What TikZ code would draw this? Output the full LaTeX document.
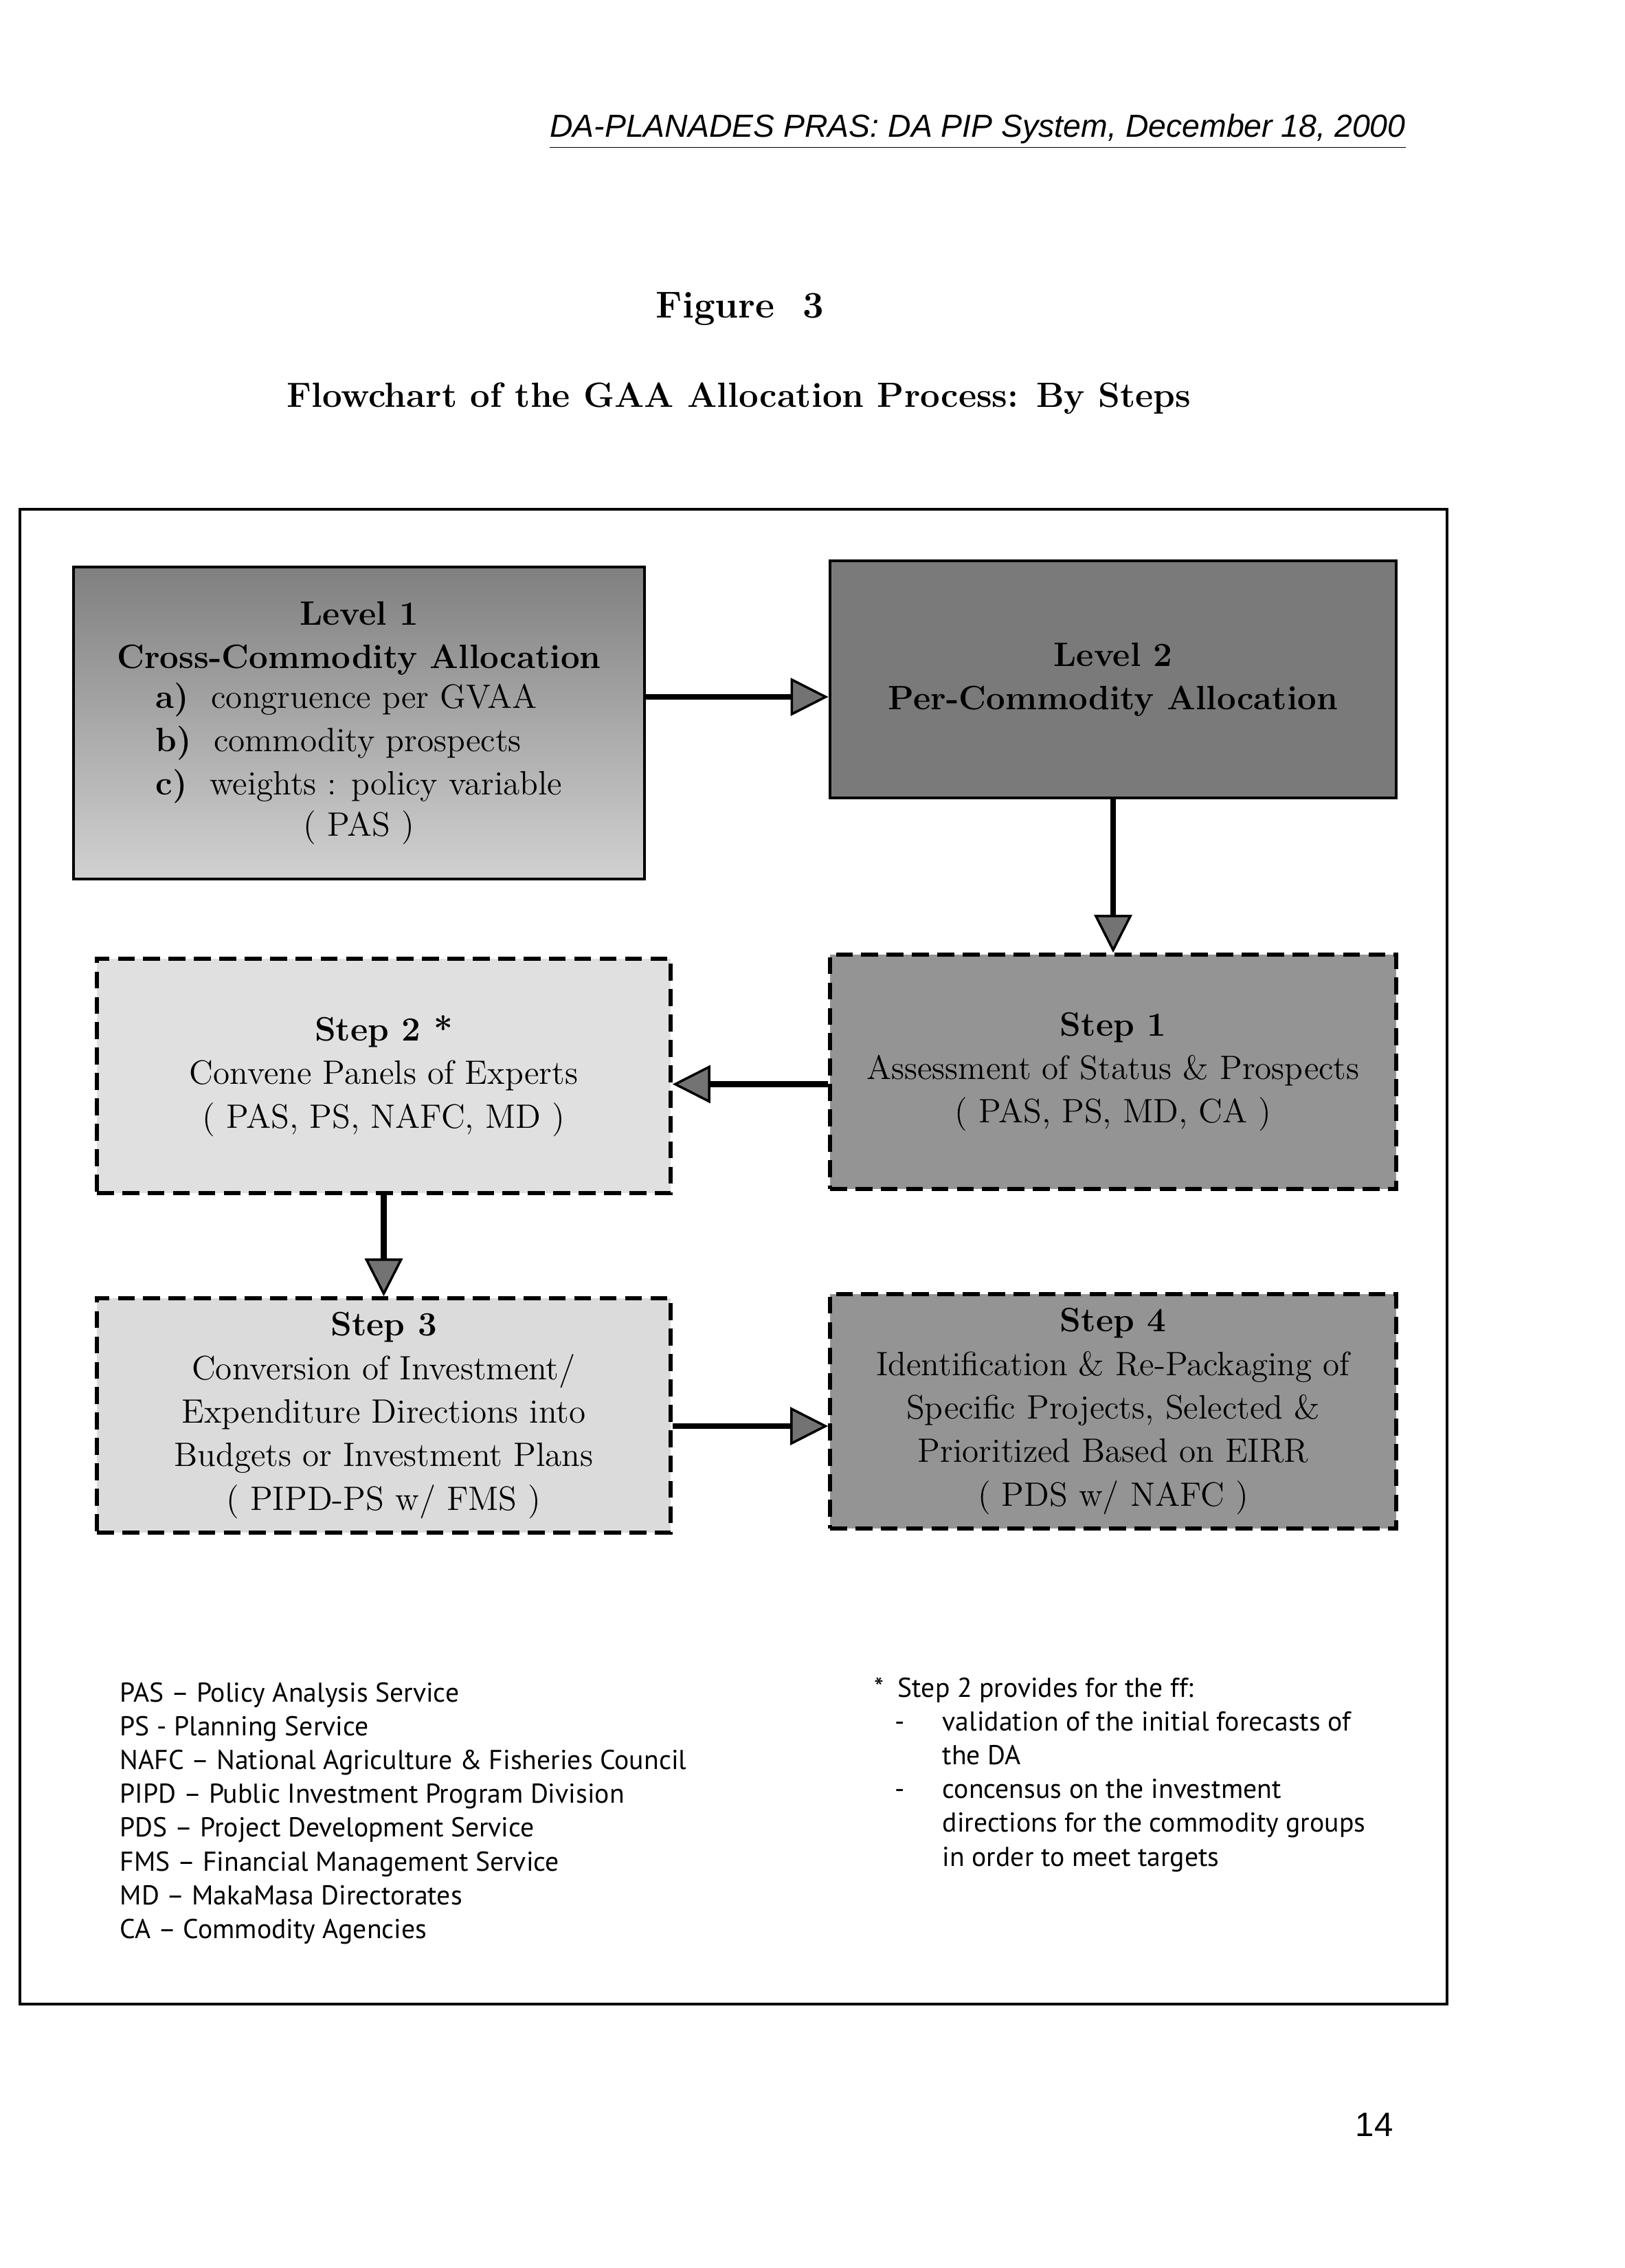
\documentclass[tikz,border=0pt]{standalone}
\usepackage{fontspec}
\newfontfamily\hdrfont{Liberation Sans}
\newfontfamily\notefont{PT Sans}
\usetikzlibrary{arrows.meta}

\begin{document}
\begin{tikzpicture}[
  x=1cm, y=-1cm,
  font=\fontsize{14}{18}\selectfont,
  box/.style={draw, align=center, inner sep=4pt},
  lvlbox/.style={box, line width=1.4pt},
  stepbox/.style={box, line width=1.6pt, dash pattern=on 7pt off 3.5pt,
    minimum height=3.41cm},
  arr/.style={-{Triangle[length=5.5mm, width=5.5mm, fill=black!55, line width=1pt]},
    line width=2.4pt},
  key/.style={font=\notefont\fontsize{11.3}{14}\selectfont, align=left,
    inner sep=0pt, anchor=north west},
]
  \useasboundingbox (0,0) rectangle (23.65,33.00);

  % page head and titles
  \node[anchor=base east, font=\hdrfont\itshape\fontsize{13.2}{16}\selectfont] (hdr)
    at (20.58,2.00) {\underline{DA-PLANADES PRAS: DA PIP System, December 18, 2000}};
  \node[anchor=base, font=\bfseries\fontsize{15.5}{19}\selectfont] (fig)
    at (10.77,4.63) {Figure~~3};
  \node[anchor=base, font=\bfseries\fontsize{14.5}{19}\selectfont] (ttl)
    at (10.75,5.93) {Flowchart of the GAA Allocation Process: By Steps};

  \draw[line width=1.1pt] (0.29,7.41) rectangle (21.06,29.16);

  % levels
  \node[lvlbox, top color=black!50, bottom color=black!18,
    minimum width=8.31cm, minimum height=4.54cm] (lvl1) at (5.225,10.52) {%
    \textbf{Level 1}\\
    \textbf{Cross-Commodity Allocation}\\
    \begin{tabular}{@{}l@{}}
      \textbf{a)}~~congruence per GVAA\\
      \textbf{b)}~~commodity prospects\\
      \textbf{c)}~~weights : policy variable
    \end{tabular}\\
    ( PAS )};
  \node[lvlbox, fill=black!52, minimum width=8.24cm, minimum height=3.45cm]
    (lvl2) at (16.20,9.885) {%
    \textbf{Level 2}\\
    \textbf{Per-Commodity Allocation}};

  % steps
  \node[stepbox, fill=black!42, minimum width=8.24cm] (step1) at (16.20,15.595) {%
    \textbf{Step 1}\\
    Assessment of Status \& Prospects\\
    ( PAS, PS, MD, CA )};
  \node[stepbox, fill=black!12, minimum width=8.35cm] (step2) at (5.585,15.655) {%
    \textbf{Step 2 *}\\
    Convene Panels of Experts\\
    ( PAS, PS, NAFC, MD )};
  \node[stepbox, fill=black!14, minimum width=8.35cm] (step3) at (5.585,20.595) {%
    \textbf{Step 3}\\
    Conversion of Investment/\\
    Expenditure Directions into\\
    Budgets or Investment Plans\\
    ( PIPD-PS w/ FMS )};
  \node[stepbox, fill=black!42, minimum width=8.24cm] (step4) at (16.20,20.535) {%
    \textbf{Step 4}\\
    Identification \& Re-Packaging of\\
    Specific Projects, Selected \&\\
    Prioritized Based on EIRR\\
    ( PDS w/ NAFC )};

  \coordinate (l1out) at ([yshift=0.38cm]lvl1.east);
  \coordinate (s1out) at ([yshift=-0.18cm]step1.west);
  \coordinate (s3out) at ([yshift=-0.155cm]step3.east);

  \draw[arr] (l1out) -- (l1out -| lvl2.west);
  \draw[arr] (lvl2.south) -- (step1.north);
  \draw[arr] (s1out) -- (s1out -| step2.east);
  \draw[arr] (step2.south) -- (step3.north);
  \draw[arr] (s3out) -- (s3out -| step4.west);

  % legend and footnote
  \node[key] (abbr) at (1.74,24.47) {%
    PAS \textendash{} Policy Analysis Service\\
    PS - Planning Service\\
    NAFC \textendash{} National Agriculture \& Fisheries Council\\
    PIPD \textendash{} Public Investment Program Division\\
    PDS \textendash{} Project Development Service\\
    FMS \textendash{} Financial Management Service\\
    MD \textendash{} MakaMasa Directorates\\
    CA \textendash{} Commodity Agencies};
  \node[key] (note) at (12.72,24.40) {%
    \makebox[0.34cm][l]{*}Step 2 provides for the ff:\\
    \hspace*{0.30cm}\makebox[0.69cm][l]{-}validation of the initial forecasts of\\
    \hspace*{0.99cm}the DA\\
    \hspace*{0.30cm}\makebox[0.69cm][l]{-}concensus on the investment\\
    \hspace*{0.99cm}directions for the commodity groups\\
    \hspace*{0.99cm}in order to meet targets};

  \node[anchor=base east, font=\hdrfont\fontsize{14}{16}\selectfont] (pg)
    at (20.40,31.08) {14};
\end{tikzpicture}
\end{document}
